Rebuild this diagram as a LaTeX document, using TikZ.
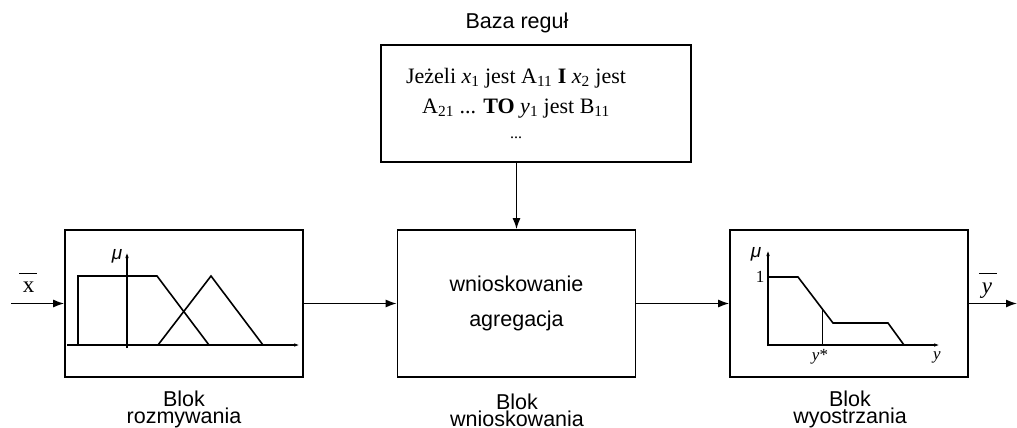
\documentclass[tikz,border=0pt]{standalone}
\usepackage{fontspec}
\setmainfont{Liberation Serif}
\setsansfont{Liberation Sans}
\usetikzlibrary{arrows.meta,calc}
\tikzset{
  fuzzy text/.style={font=\sffamily\fontsize{21.5}{17}\selectfont, align=center, inner sep=0pt},
  fuzzy rule/.style={font=\rmfamily\fontsize{22}{30}\selectfont, align=center, inner sep=0pt},
  fuzzy mark/.style={font=\rmfamily\fontsize{17}{18}\selectfont, inner sep=0pt},
  fuzzy mu/.style={font=\sffamily\itshape\fontsize{19}{20}\selectfont, inner sep=0pt},
  fuzzy bar/.style={font=\rmfamily\fontsize{23}{24}\selectfont, inner sep=0pt},
  fuzzy block/.style={draw, line width=1.6pt, minimum width=238pt, minimum height=147pt, inner sep=0pt},
  fuzzy link/.style={line width=1.5pt, -{Latex[length=11pt,width=8pt]}},
  fuzzy axis/.style={line width=1.2pt, -{Latex[length=6pt,width=3.5pt]}},
  fuzzy curve/.style={line width=1.6pt},
  fuzzy thin/.style={line width=.7pt},
}

\begin{document}
\begin{tikzpicture}[x=1pt,y=-1pt]
  \useasboundingbox (0,0) rectangle (1017,428);

  % rule base on top
  \node[fuzzy text] (baseTitle) at (517,23) {Baza reguł};
  \node[draw, line width=1.6pt, minimum width=310pt, minimum height=117pt, inner sep=0pt]
    (rules) at (536,103.5) {};
  \node[fuzzy rule] (ruleText) at (516,103)
    {Jeżeli \textit{x}\textsubscript{1} jest A\textsubscript{11} \textbf{I} \textit{x}\textsubscript{2} jest\\
     A\textsubscript{21} ... \textbf{TO} \textit{y}\textsubscript{1} jest B\textsubscript{11}\\[-5pt]
     {\fontsize{16}{16}\selectfont ...}};

  % the three blocks
  \node[fuzzy block] (fuzz) at (184,303.5) {};
  \node[fuzzy block, fuzzy text, font=\sffamily\fontsize{21.5}{35}\selectfont]
    (infer) at (516.5,303.5) {wnioskowanie\\agregacja};
  \node[fuzzy block] (defuzz) at (849,303.5) {};

  \node[fuzzy text] (fuzzCap) at (184,409) {Blok\\rozmywania};
  \node[fuzzy text] (inferCap) at (517,410) {Blok\\wnioskowania};
  \node[fuzzy text] (defuzzCap) at (850,409) {Blok\\wyostrzania};

  % connectors
  \coordinate (xin) at (11,303.5);
  \coordinate (yout) at (1017,303.5);
  \node[fuzzy bar, anchor=base] (xLabel) at (28.5,292)
    {\rlap{\kern-3.5pt\rule[18pt]{18pt}{1.3pt}}x};
  \node[fuzzy bar, anchor=base] (yLabel) at (987,293)
    {\rlap{\kern-3pt\rule[19pt]{18pt}{1.3pt}}\textit{y}};
  \draw[fuzzy link] (xin) -- (fuzz.west);
  \draw[fuzzy link] (fuzz.east) -- (infer.west);
  \draw[fuzzy link] (infer.north |- rules.south) -- (infer.north);
  \draw[fuzzy link] (infer.east) -- (defuzz.west);
  \draw[fuzzy link] (defuzz.east) -- (yout);

  % fuzzification sets
  \draw[fuzzy axis] (67,345) -- (300,345);
  \draw[fuzzy axis] (127,348) -- (127,252);
  \node[fuzzy mu] (muL) at (117,256) {μ};
  \draw[fuzzy curve] (78,345) -- (78,276) -- (157,276) -- (209,345);
  \draw[fuzzy curve] (158,345) -- (211,276) -- (263,345);

  % defuzzified output
  \draw[fuzzy axis] (767,345) -- (940,345);
  \draw[fuzzy axis] (768,346) -- (768,250);
  \node[fuzzy mu] (muR) at (756,254) {μ};
  \node[fuzzy mark] (one) at (760,277) {1};
  \draw[fuzzy curve] (768,277) -- (798,277) -- (833,323) -- (888,323) -- (904,345);
  \draw[fuzzy thin] (822,345) -- (822,308.5);
  \node[fuzzy mark] (ystar) at (820,357) {\textit{y}*};
  \node[fuzzy mark] (yAxis) at (937,357) {\textit{y}};
\end{tikzpicture}
\end{document}
